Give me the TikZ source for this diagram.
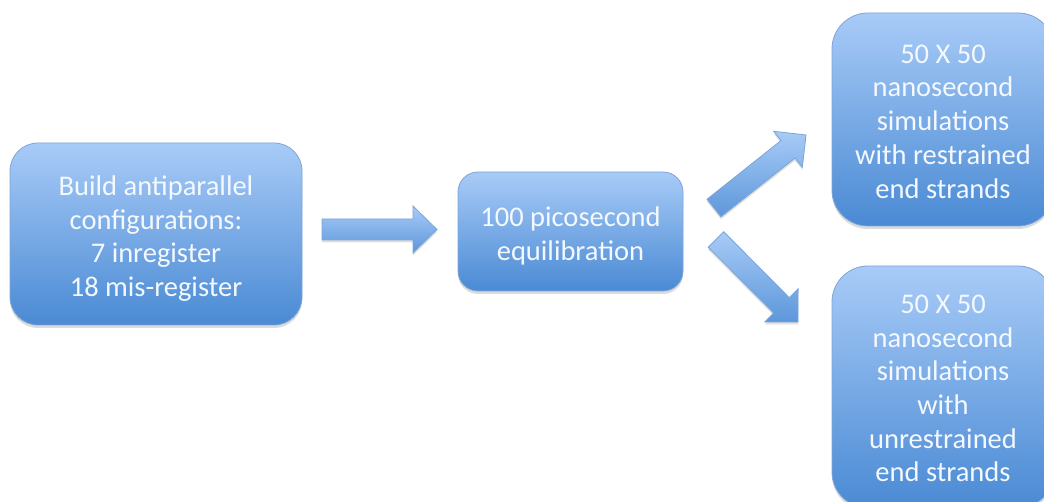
\documentclass[tikz,border=0pt]{standalone}
\usepackage{fontspec}
\setmainfont{Carlito}
\usetikzlibrary{calc,shadows}
\definecolor{boxtop}{HTML}{A8CBF7}
\definecolor{boxbot}{HTML}{4A8AD4}
\definecolor{boxedge}{HTML}{7EA5D8}
\definecolor{txt}{HTML}{F4F8FF}
\tikzset{
  stepbox/.style={rectangle, top color=boxtop, bottom color=boxbot, draw=boxedge,
    line width=0.8pt, inner sep=0pt,
    drop shadow={opacity=0.28, shadow xshift=0pt, shadow yshift=-3pt}},
  boxtext/.style={text=txt, align=center, inner sep=0pt,
    font=\fontsize{28.5}{33.7}\selectfont},
  blockarr/.style={top color=boxtop, bottom color=boxbot!80!boxtop, draw=boxedge,
    line width=0.8pt, line join=miter,
    drop shadow={opacity=0.25, shadow xshift=0pt, shadow yshift=-2.5pt}}
}
% tail, tip, shaft half width, head half width, head length
\newcommand\blockarrow[5]{%
  \coordinate (hb) at ($(#2)!#5!(#1)$);
  \draw[blockarr] ($(#1)!#3!90:(#2)$) -- ($(hb)!#3!90:(#2)$) -- ($(hb)!#4!90:(#2)$)
    -- (#2) -- ($(hb)!#4!-90:(#2)$) -- ($(hb)!#3!-90:(#2)$) -- ($(#1)!#3!-90:(#2)$) -- cycle;
}
\begin{document}
\begin{tikzpicture}[x=1pt,y=-1pt]
  \fill[white] (0,0) rectangle (1044,502);
  \useasboundingbox (0,0) rectangle (1044,502);

  \node[stepbox, minimum width=292pt, minimum height=182pt, rounded corners=28pt,
    label={[boxtext, name=buildtxt, yshift=-4.5pt]center:{Build antiparallel\\configurations:\\7 inregister\\18 mis-register}}]
    (build) at (156,234) {};
  \node[stepbox, minimum width=225pt, minimum height=119pt, rounded corners=20pt,
    label={[boxtext, name=equiltxt, yshift=-4.5pt]center:{100 picosecond\\equilibration}}]
    (equil) at (570.5,231.5) {};
  \node[stepbox, minimum width=222pt, minimum height=213pt, rounded corners=36pt,
    label={[boxtext, name=restrtxt, yshift=-2pt]center:{50 X 50\\nanosecond\\simulations\\with restrained\\end strands}}]
    (restr) at (943,119.5) {};
  \node[stepbox, minimum width=222pt, minimum height=242pt, rounded corners=36pt,
    label={[boxtext, name=unrestxt, yshift=-1.5pt]center:{50 X 50\\nanosecond\\simulations\\with\\unrestrained\\end strands}}]
    (unres) at (943,387) {};

  \coordinate (t1) at (322,229.5);
  \coordinate (h1) at (437,229.5);
  \coordinate (t2) at (714,208);
  \coordinate (h2) at (806,135);
  \coordinate (t3) at (716,239.5);
  \coordinate (h3) at (798,322);

  \blockarrow{t1}{h1}{10.5pt}{23.5pt}{24pt}
  \blockarrow{t2}{h2}{11.2pt}{23pt}{23pt}
  \blockarrow{t3}{h3}{11pt}{23.5pt}{23.5pt}
\end{tikzpicture}
\end{document}
